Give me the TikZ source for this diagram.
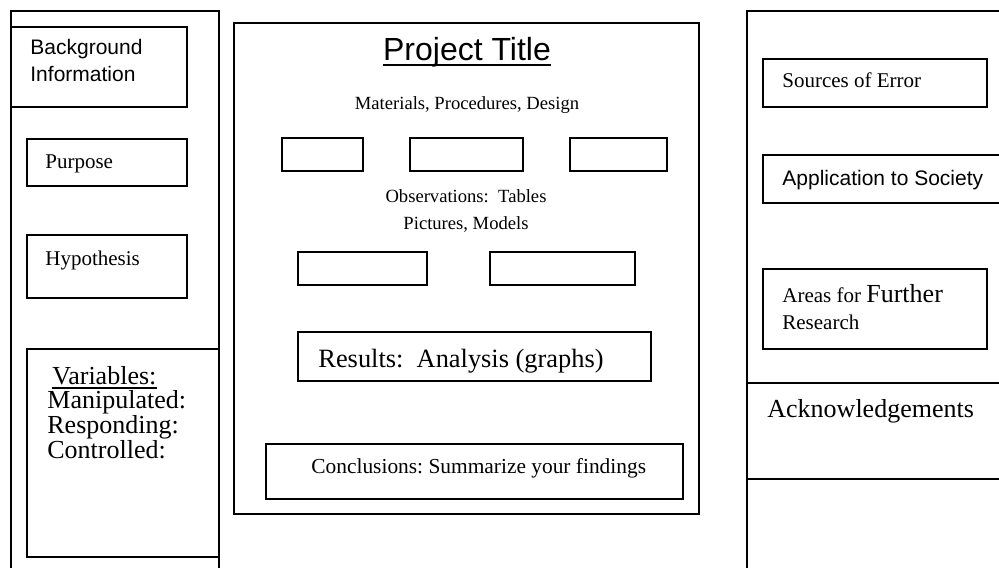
\documentclass[tikz,border=0pt]{standalone}
\usepackage{fontspec}
\setmainfont{Liberation Serif}
\setsansfont{Liberation Sans}
\usetikzlibrary{fit}
\frenchspacing

\tikzset{
    frame/.style={draw, line width=1pt, inner sep=0pt, fit={#1}},
    lbl/.style={inner sep=0pt, anchor=base west},
    sm/.style={font=\fontsize{9.3}{11}\selectfont},
    nm/.style={font=\fontsize{10.5}{12.5}\selectfont},
    lg/.style={font=\fontsize{13}{15}\selectfont},
    sansnm/.style={font=\sffamily\fontsize{10.5}{12.5}\selectfont}
}

\begin{document}
\begin{tikzpicture}[x=0.5pt, y=-0.5pt]
    \useasboundingbox (0,0) rectangle (999,567);
    \clip (0,0) rectangle (999,567);

    % left column
    \node[frame={(11,11) (219,600)}] (leftpanel) {};
    \node[frame={(11,27) (187,107)}] (bgbox) {};
    \node[frame={(27,139) (187,186)}] (purposebox) {};
    \node[frame={(27,235) (187,298)}] (hypobox) {};
    \node[frame={(27,349) (219,557)}] (varbox) {};

    \node[lbl, sansnm] (bg1) at (30,55) {Background};
    \node[lbl, sansnm] (bg2) at (30,82) {Information};
    \node[lbl, nm] (purpose) at (45,168) {Purpose};
    \node[lbl, nm] (hypo) at (45,265) {Hypothesis};
    \node[lbl, lg] (vars) at (52,384) {Variables:};
    \draw[line width=0.9pt] ([yshift=-1.8pt]vars.base west) -- ([yshift=-1.8pt]vars.base east);
    \node[lbl, lg] (manip) at (47,408) {Manipulated:};
    \node[lbl, lg] (resp) at (47,433) {Responding:};
    \node[lbl, lg] (ctrl) at (47,458) {Controlled:};

    % middle column
    \node[frame={(234,23) (699,514)}] (midpanel) {};
    \node[frame={(282,138) (363,171)}] (matA) {};
    \node[frame={(410,138) (523,171)}] (matB) {};
    \node[frame={(570,138) (667,171)}] (matC) {};
    \node[frame={(298,252) (427,285)}] (obsA) {};
    \node[frame={(490,252) (635,285)}] (obsB) {};
    \node[frame={(298,332) (651,381)}] (resbox) {};
    \node[frame={(266,444) (683,499)}] (conbox) {};

    \node[inner sep=0pt, anchor=base, font=\sffamily\fontsize{16}{19}\selectfont] (title) at (467,61) {Project Title};
    \draw[line width=1pt] ([yshift=-2pt]title.base west) -- ([yshift=-2pt]title.base east);
    \node[inner sep=0pt, anchor=base, sm] (materials) at (467,110) {Materials, Procedures, Design};
    \node[inner sep=0pt, anchor=base, sm] (obs) at (466,202) {Observations:~ Tables};
    \node[inner sep=0pt, anchor=base, sm] (pics) at (466,229) {Pictures, Models};
    \node[lbl, font=\fontsize{13.2}{15}\selectfont] (results) at (318,367) {Results:~ Analysis (graphs)};
    \node[lbl, font=\fontsize{10.7}{12.5}\selectfont] (concl) at (311,473) {Conclusions: Summarize your findings};

    % right column
    \node[frame={(747,11) (1020,600)}] (rightpanel) {};
    \node[frame={(763,59) (987,107)}] (srcbox) {};
    \node[frame={(763,155) (1020,203)}] (appbox) {};
    \node[frame={(763,269) (987,349)}] (areabox) {};
    \node[frame={(747,383) (1020,479)}] (ackbox) {};

    \node[lbl, nm] (sources) at (782,88) {Sources of Error};
    \node[lbl, sansnm] (appl) at (782,185) {Application to Society};
    \node[lbl, nm] (areas) at (782,302) {Areas for {\fontsize{13}{15}\selectfont Further}};
    \node[lbl, nm] (research) at (782,329) {Research};
    \node[lbl, lg] (ack) at (767,417) {Acknowledgements};
\end{tikzpicture}
\end{document}
